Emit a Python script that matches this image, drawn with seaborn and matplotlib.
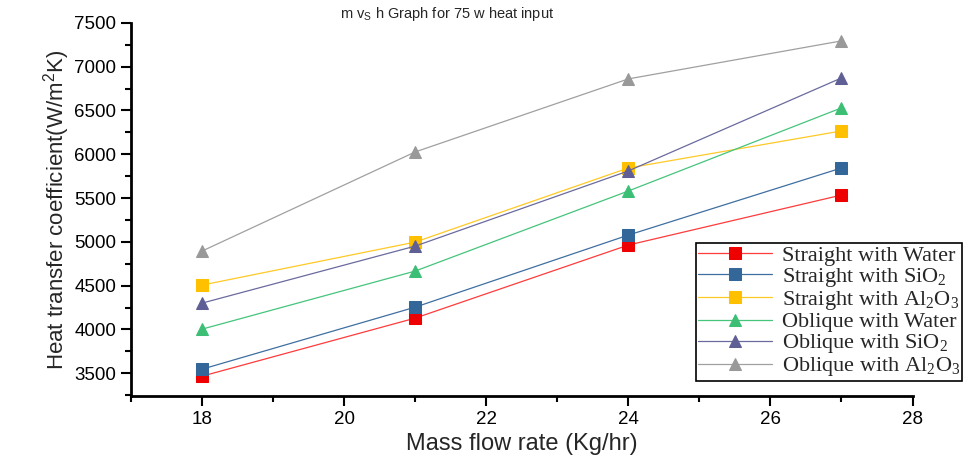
import pandas as pd
import matplotlib.pyplot as plt
import seaborn as sns
from matplotlib.ticker import MultipleLocator


mass_flow = [18, 21, 24, 27]

straight_water = [3466, 4129, 4963, 5534]
straight_sio2 = [3546, 4254, 5077, 5843]
straight_al2o3 = [4506, 4997, 5843, 6266]
oblique_water = [4003, 4666, 5580, 6529]
oblique_sio2 = [4300, 4951, 5809, 6871]
oblique_al2o3 = [4894, 6026, 6860, 7294]

series_labels = [
	"Straight with Water",
	"Straight with SiO$_2$",
	"Straight with Al$_2$O$_3$",
	"Oblique with Water",
	"Oblique with SiO$_2$",
	"Oblique with Al$_2$O$_3$",
]
series_values = [straight_water, straight_sio2, straight_al2o3,
				 oblique_water, oblique_sio2, oblique_al2o3]
line_colors = ["#ff3b3b", "#3f6fa0", "#ffc926", "#45c47c", "#6a6a9e", "#a0a0a0"]
marker_colors = ["#ee0000", "#336699", "#ffc000", "#3cbf74", "#5f5f96", "#999999"]
marker_shapes = ["s", "s", "s", "^", "^", "^"]


def main():
	sns.set_theme(style="ticks")
	plt.rcParams["font.family"] = ["Liberation Sans", "DejaVu Sans"]
	plt.rcParams["mathtext.fontset"] = "custom"
	plt.rcParams["mathtext.rm"] = "Liberation Serif"
	plt.rcParams["mathtext.sf"] = "Liberation Sans"

	fig = plt.figure(figsize=(9.77, 4.57), dpi=100)
	ax = fig.add_axes([0.134, 0.1335, 0.8, 0.8165])

	for label, values, lc, mc, mk in zip(series_labels, series_values,
										  line_colors, marker_colors, marker_shapes):
		df = pd.DataFrame({"m": mass_flow, "h": values})
		sns.lineplot(data=df, x="m", y="h", ax=ax, color=lc, linewidth=0.9,
					 marker=mk, markersize=9, markerfacecolor=mc,
					 markeredgecolor=mc, label=label)

	ax.set_xlim(17, 28)
	ax.set_ylim(3240, 7500)
	ax.xaxis.set_major_locator(MultipleLocator(2))
	ax.xaxis.set_minor_locator(MultipleLocator(1))
	ax.yaxis.set_major_locator(MultipleLocator(500))
	ax.yaxis.set_minor_locator(MultipleLocator(250))
	ax.tick_params(which="major", length=7, width=1.5, labelsize=13.5, colors="black")
	ax.tick_params(which="minor", length=4, width=1.5, colors="black")
	for side in ["top", "right"]:
		ax.spines[side].set_visible(False)
	for side in ["left", "bottom"]:
		ax.spines[side].set_linewidth(2)
		ax.spines[side].set_color("black")

	ax.set_xlabel("Mass flow rate (Kg/hr)", fontsize=17, labelpad=4)
	ax.set_ylabel("Heat transfer coefficient(W/m$^\\mathsf{2}$K)", fontsize=16,
				  family=["Liberation Sans Narrow", "Liberation Sans"], labelpad=2)
	fig.text(0.348, 0.95, "m v$_\\mathsf{S}$ h Graph for 75 w heat input",
			 fontsize=10.5, ha="left", va="bottom")

	leg = ax.legend(loc="upper left", bbox_to_anchor=(696 / 977, 1 - 243 / 457),
					bbox_transform=fig.transFigure, frameon=True, fancybox=False,
					edgecolor="black", framealpha=1, borderpad=0.1,
					labelspacing=0.0, handlelength=3.3, handletextpad=0.45,
					borderaxespad=0, prop={"family": "Liberation Serif", "size": 16})
	leg.get_frame().set_linewidth(1.2)

	fig.savefig("out.png", dpi=100)


if __name__ == "__main__":
	main()
